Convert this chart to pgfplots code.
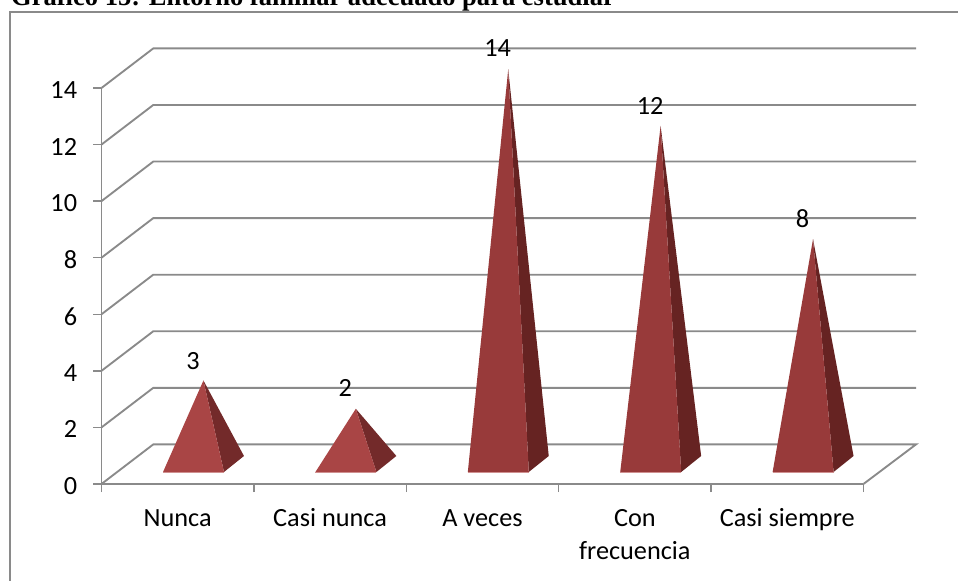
\documentclass[border=0pt]{standalone}
\usepackage{pgfplots}
\pgfplotsset{compat=1.18}
\usepackage{fontspec}
\setmainfont{Carlito}
\newfontfamily\titlefont{Liberation Serif}
\definecolor{gridc}{HTML}{8A8A8A}
\definecolor{frontA}{HTML}{A94545}
\definecolor{sideA}{HTML}{732A2A}
\definecolor{frontB}{HTML}{983A3A}
\definecolor{sideB}{HTML}{662322}
\definecolor{basec}{HTML}{CF9090}
\newcommand{\lab}{\rule{0pt}{15pt}}
\pgfplotsset{
  wall/.style={draw=gridc,line width=1.4pt,line join=miter,no markers,forget plot},
  fr/.style={fill=#1,draw=none,no markers,forget plot},
  bs/.style={draw=basec,line width=0.5pt,no markers,forget plot},
}
\begin{document}
\begin{tikzpicture}
\useasboundingbox (0,0) rectangle (718.5pt,-435.75pt);
\begin{scope}
\clip (0,0) rectangle (718.5pt,-435.75pt);
\node[anchor=base west,inner sep=0pt] at (8.2pt,-4.5pt) {\titlefont\bfseries\fontsize{19.9}{23}\selectfont Gráfico 15: Entorno familiar adecuado para estudiar};
\end{scope}
\draw[gridc,line width=1pt] (7.5pt,-435.75pt) -- (7.5pt,-9pt) -- (718.5pt,-9pt);
\begin{axis}[
  at={(76.1pt,-363pt)},anchor=south west,
  scale only axis,width=571.5pt,height=297pt,
  xmin=0,xmax=5,ymin=0,ymax=14,clip=false,
  axis x line*=bottom,axis y line*=left,
  axis line style={draw=gridc,line width=1.4pt,-},
  tick style={draw=gridc,line width=1.1pt},
  tick align=outside,
  major tick length=6pt,
  ytick={0,2,4,6,8,10,12,14},
  xtick={0,1,2,3,4,5},xticklabels={},
  extra x ticks={0.5,1.5,2.5,3.5,4.5},
  extra x tick labels={\lab Nunca,\lab Casi nunca,\lab A veces,{\lab Con\\frecuencia},\lab Casi siempre},
  extra x tick style={major tick length=0pt,tick style={draw=none},
    xticklabel style={align=center,anchor=north,yshift=-13pt}},
  /pgf/number format/assume math mode=true,
  ticklabel style={font=\fontsize{19.7}{24.75}\selectfont,text=black},
  yticklabel style={xshift=-8.75pt,yshift=-1.5pt},
]
% back wall gridlines
\addplot[wall] coordinates {(0,0)(0.34,1.4)(5.345,1.4)(5,0)};
\addplot[wall] coordinates {(0,2)(0.34,3.4)(5.345,3.4)};
\addplot[wall] coordinates {(0,4)(0.34,5.4)(5.345,5.4)};
\addplot[wall] coordinates {(0,6)(0.34,7.4)(5.345,7.4)};
\addplot[wall] coordinates {(0,8)(0.34,9.4)(5.345,9.4)};
\addplot[wall] coordinates {(0,10)(0.34,11.4)(5.345,11.4)};
\addplot[wall] coordinates {(0,12)(0.34,13.4)(5.345,13.4)};
\addplot[wall] coordinates {(0,14)(0.34,15.4)(5.345,15.4)};
% pyramids: value 3
\addplot[fr=sideA] coordinates {(0.669,3.66)(0.804,0.424)(0.935,0.99)} --cycle;
\addplot[fr=frontA] coordinates {(0.669,3.66)(0.404,0.424)(0.804,0.424)} --cycle;
\addplot[bs] coordinates {(0.404,0.41)(0.804,0.41)};
% value 2
\addplot[fr=sideA] coordinates {(1.669,2.66)(1.804,0.424)(1.935,0.99)} --cycle;
\addplot[fr=frontA] coordinates {(1.669,2.66)(1.404,0.424)(1.804,0.424)} --cycle;
\addplot[bs] coordinates {(1.404,0.41)(1.804,0.41)};
% value 14
\addplot[fr=sideB] coordinates {(2.669,14.66)(2.804,0.424)(2.935,0.99)} --cycle;
\addplot[fr=frontB] coordinates {(2.669,14.66)(2.404,0.424)(2.804,0.424)} --cycle;
\addplot[bs] coordinates {(2.404,0.41)(2.804,0.41)};
% value 12
\addplot[fr=sideB] coordinates {(3.669,12.66)(3.804,0.424)(3.935,0.99)} --cycle;
\addplot[fr=frontB] coordinates {(3.669,12.66)(3.404,0.424)(3.804,0.424)} --cycle;
\addplot[bs] coordinates {(3.404,0.41)(3.804,0.41)};
% value 8
\addplot[fr=sideB] coordinates {(4.669,8.66)(4.804,0.424)(4.935,0.99)} --cycle;
\addplot[fr=frontB] coordinates {(4.669,8.66)(4.404,0.424)(4.804,0.424)} --cycle;
\addplot[bs] coordinates {(4.404,0.41)(4.804,0.41)};
% data labels
\addplot[draw=none,no markers,forget plot,point meta=explicit symbolic,
  nodes near coords,
  every node near coord/.style={anchor=center,inner sep=0pt,text=black,font=\fontsize{19.7}{24}\selectfont}]
  coordinates {(0.60,4.35)[3] (1.60,3.39)[2] (2.60,15.4)[14] (3.60,13.36)[12] (4.60,9.37)[8]};
\end{axis}
\end{tikzpicture}
\end{document}
